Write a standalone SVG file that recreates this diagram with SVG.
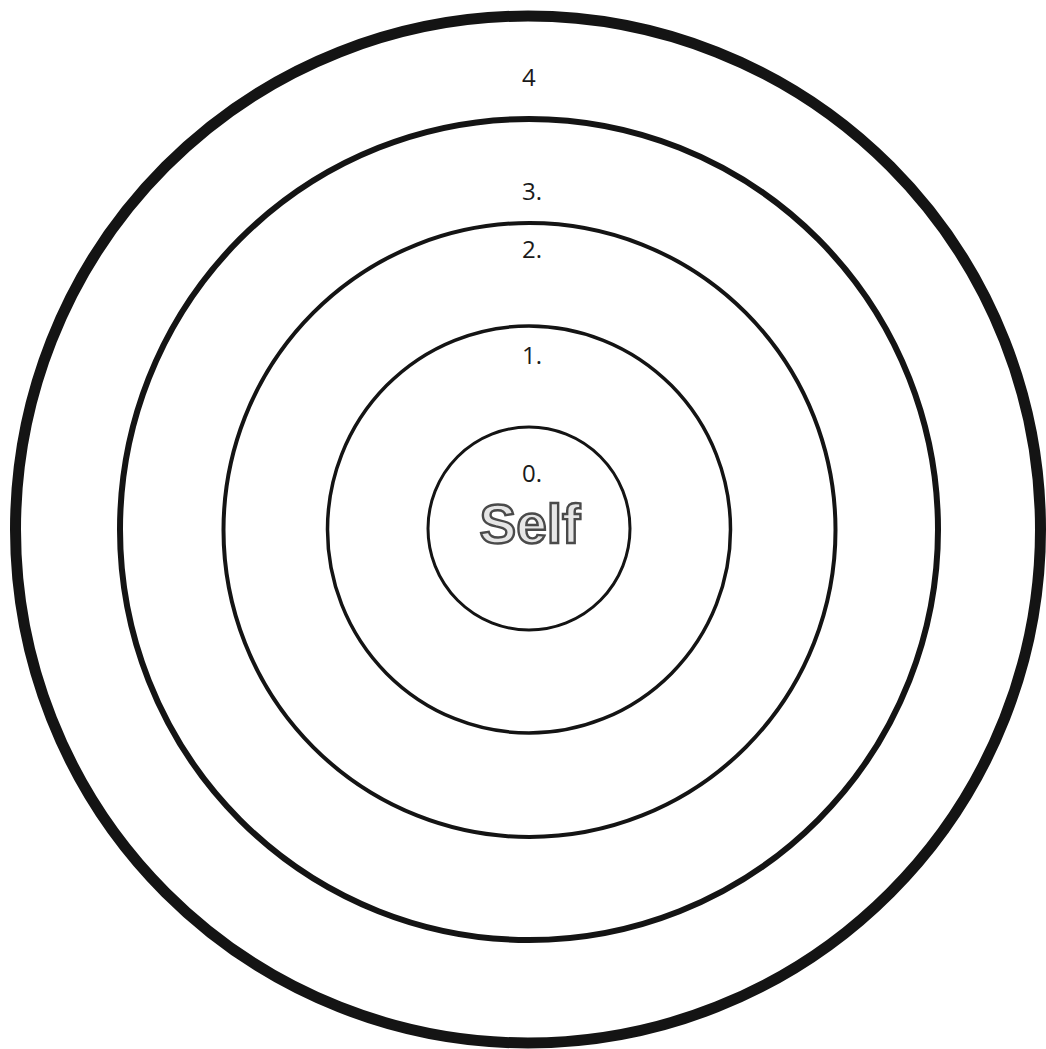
<svg xmlns="http://www.w3.org/2000/svg" width="1046" height="1049" viewBox="0 0 1046 1049">
  <style>
    .ring { fill: none; stroke: #141414; }
    .num { font-family: "Open Sans", "Noto Sans", "Liberation Sans", sans-serif; font-size: 24px; fill: #1a1a1a; }
    .self { font-family: "Liberation Sans", Arial, sans-serif; font-weight: bold; font-size: 55px; fill: #e6e6e6; stroke: #4a4a4a; stroke-width: 2.4; }
  </style>
  <rect width="1046" height="1049" fill="#ffffff"/>
  <g id="ring-4">
    <ellipse class="ring" cx="528" cy="529.5" rx="512.5" ry="513.5" stroke-width="11"/>
    <text class="num" x="522" y="86">4</text>
  </g>
  <g id="ring-3">
    <ellipse class="ring" cx="529" cy="529.5" rx="409" ry="410.5" stroke-width="6"/>
    <text class="num" x="522" y="200">3.</text>
  </g>
  <g id="ring-2">
    <ellipse class="ring" cx="529.5" cy="530" rx="306" ry="307" stroke-width="4"/>
    <text class="num" x="522" y="258">2.</text>
  </g>
  <g id="ring-1">
    <ellipse class="ring" cx="529" cy="529.5" rx="201.5" ry="203.5" stroke-width="3.5"/>
    <text class="num" x="522" y="364">1.</text>
  </g>
  <g id="ring-0">
    <ellipse class="ring" cx="529" cy="528.5" rx="101" ry="101.5" stroke-width="3"/>
    <text class="num" x="522" y="482">0.</text>
    <text class="self" x="530" y="543" text-anchor="middle">Self</text>
  </g>
  <g id="connectors"/>
</svg>
